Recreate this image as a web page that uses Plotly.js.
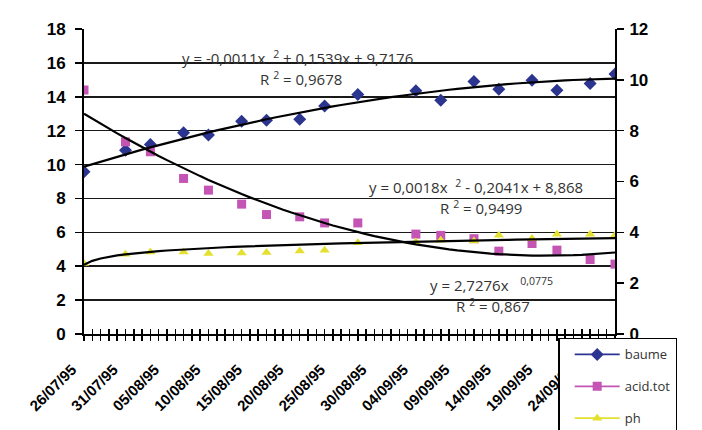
<!DOCTYPE html>
<html><head><meta charset="utf-8">
<script src="https://cdn.plot.ly/plotly-3.0.1.min.js"></script>
<style>html,body{margin:0;padding:0;background:#fff}#chart{width:702px;height:430px}</style>
</head><body><div id="chart"></div>
<script>
// ---- data ----
const startDate = '1995-07-26';
const endDate = '1995-09-28';
const sampleDates = ['1995-07-26','1995-07-31','1995-08-03','1995-08-07','1995-08-10','1995-08-14','1995-08-17','1995-08-21','1995-08-24','1995-08-28','1995-09-04','1995-09-07','1995-09-11','1995-09-14','1995-09-18','1995-09-21','1995-09-25','1995-09-28'];
const baume   = [9.57,10.85,11.19,11.87,11.74,12.56,12.62,12.68,13.45,14.14,14.35,13.80,14.90,14.45,14.98,14.39,14.79,15.34];
const acidTot = [9.60,7.56,7.17,6.12,5.66,5.11,4.70,4.61,4.37,4.37,3.93,3.88,3.75,3.26,3.56,3.30,2.93,2.75];
const ph      = [2.77,3.14,3.23,3.23,3.17,3.19,3.21,3.27,3.30,3.59,3.62,3.69,3.66,3.89,3.76,3.92,3.92,3.89];
// trendline coefficients as printed on the chart (x = day index, 1-based)
const baumeTrend = [-0.0011, 0.1539, 9.7176];   // quadratic
const acidTrend  = [0.0018, -0.2041, 8.868];    // quadratic
const phTrend    = [2.7276, 0.0775];            // power
const seriesNames = ['baume','acid.tot','ph'];
const seriesColors = ['#2B3590','#C455B4','#E4E030'];
const eqTexts = [
  'y = -0,0011x&nbsp;&nbsp;<sup>2</sup>&nbsp;+ 0,1539x + 9,7176',
  'R&nbsp;<sup>2</sup>&nbsp;= 0,9678',
  'y = 0,0018x&nbsp;&nbsp;<sup>2</sup>&nbsp;- 0,2041x + 8,868',
  'R&nbsp;<sup>2</sup>&nbsp;= 0,9499',
  'y = 2,7276x&nbsp;&nbsp;&nbsp;<sup>0,0775</sup>',
  'R&nbsp;<sup>2</sup>&nbsp;= 0,867'
];

// ---- build daily category arrays ----
const DAY = 86400000;
function iso(t){ const d=new Date(t); return d.toISOString().slice(0,10); }
const t0 = Date.parse(startDate+'T00:00:00Z'), t1 = Date.parse(endDate+'T00:00:00Z');
const days = [];
for (let t=t0; t<=t1; t+=DAY) days.push(iso(t));
function daily(vals){ return days.map(d => { const i = sampleDates.indexOf(d); return i>=0 ? vals[i] : null; }); }
const idx = days.map((d,i)=>i+1);
const quad = c => idx.map(x => c[0]*x*x + c[1]*x + c[2]);
const pow = c => idx.map(x => c[0]*Math.pow(x,c[1]));

const markerSymbols = ['diamond','square','triangle-up'];
const valueSets = [baume, acidTot, ph];
const yAxes = ['y','y2','y2'];
const traces = [];
valueSets.forEach((v,k)=>{
  traces.push({x: days, y: daily(v), name: seriesNames[k], type:'scatter', mode:'lines+markers',
    connectgaps:false, xaxis:'x', yaxis:yAxes[k], legendgroup:'g'+k,
    line:{color:seriesColors[k], width:1.8},
    marker:{symbol:markerSymbols[k], size: k==0?10:9, color:seriesColors[k]}});
});
[quad(baumeTrend), quad(acidTrend), pow(phTrend)].forEach((v,k)=>{
  traces.push({x: days, y: v, type:'scatter', mode:'lines', showlegend:false, hoverinfo:'skip',
    xaxis:'x2', yaxis:yAxes[k], line:{color:'#000', width:2.2}});
});

const tickFont = {family:'Liberation Sans, Arial, sans-serif', size:17, color:'#000', weight:'bold'};
const xTickFont = {family:'Liberation Sans, Arial, sans-serif', size:15, color:'#000', weight:'bold'};
const eqFont = {family:'Open Sans, sans-serif', size:15, color:'#333'};
const eqPos = [[0.403,0.908],[0.409,0.839],[0.738,0.485],[0.748,0.416],[0.768,0.161],[0.770,0.095]];

const layout = {
  width:702, height:430,
  margin:{l:84, r:87, t:29, b:96, autoexpand:false},
  paper_bgcolor:'#fff', plot_bgcolor:'#fff',
  showlegend:true,
  xaxis:{type:'date', range:[startDate,endDate], tick0:startDate, dtick:5*DAY, tickformat:'%d/%m/%y',
    tickangle:-45, ticks:'outside', ticklen:5, tickwidth:1.5, tickcolor:'#000', ticklabelstandoff:14, ticklabelshift:-12,
    minor:{dtick:DAY, ticks:'outside', ticklen:5, tickwidth:1.5, tickcolor:'#000', showgrid:false},
    showline:true, linecolor:'#000', linewidth:2, showgrid:false, zeroline:false, tickfont:xTickFont},
  xaxis2:{type:'date', range:[startDate,endDate], overlaying:'x', anchor:'y', tick0:startDate, dtick:DAY,
    ticks:'inside', ticklen:5, tickwidth:1.5, tickcolor:'#000', showticklabels:false,
    showline:false, showgrid:false, zeroline:false},
  yaxis:{range:[0,18], dtick:2, ticks:'outside', ticklen:7, tickwidth:1.5, tickcolor:'#000', ticklabelstandoff:6,
    showline:true, linecolor:'#000', linewidth:2, showgrid:true, gridcolor:'#1a1a1a', gridwidth:1.6,
    zeroline:false, tickfont:tickFont},
  yaxis2:{range:[0,12], dtick:2, side:'right', overlaying:'y', anchor:'x', ticks:'outside', ticklen:7, tickwidth:1.5, tickcolor:'#000',
    ticklabelstandoff:2,
    showline:true, linecolor:'#000', linewidth:2, showgrid:false, zeroline:false, tickfont:tickFont},
  legend:{x:0.893, xanchor:'left', y:-0.013, yanchor:'top', bgcolor:'#fff', bordercolor:'#000', borderwidth:1.5,
    font:{family:'Open Sans, sans-serif', size:13, color:'#333'}, tracegroupgap:12, itemwidth:45, entrywidth:150, indentation:10},
  annotations: eqTexts.map((t,i)=>({text:t, xref:'paper', yref:'paper', x:eqPos[i][0], y:eqPos[i][1],
    showarrow:false, font:eqFont, xanchor:'center', yanchor:'middle'}))
};
Plotly.newPlot('chart', traces, layout, {staticPlot:true, displayModeBar:false});
</script></body></html>
